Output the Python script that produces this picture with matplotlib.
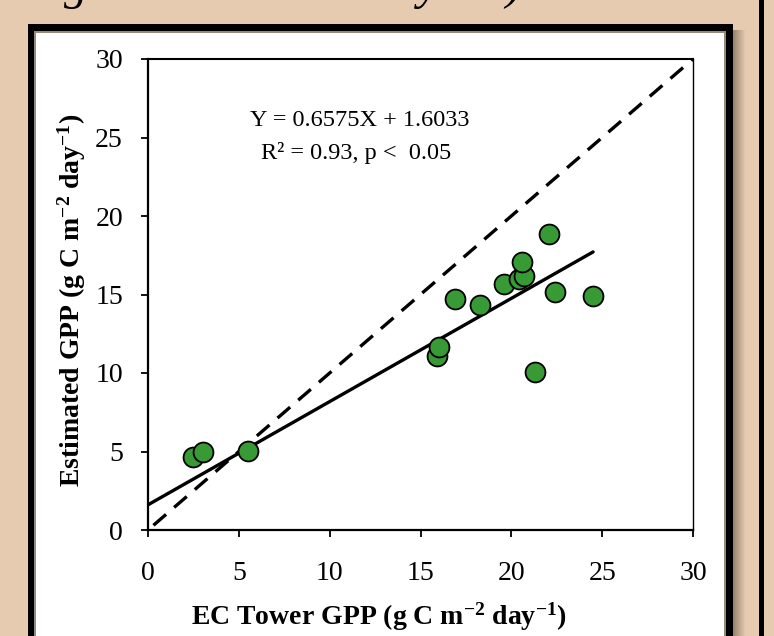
import matplotlib.pyplot as plt
from matplotlib.patches import Rectangle
import numpy as np

plt.rcParams['font.family'] = ['Liberation Serif', 'DejaVu Serif']
plt.rcParams['mathtext.fontset'] = 'custom'
plt.rcParams['mathtext.rm'] = 'Liberation Serif'
plt.rcParams['mathtext.bf'] = 'Liberation Serif:bold'
plt.rcParams['mathtext.default'] = 'bf'

# EC tower GPP vs estimated GPP (g C m-2 day-1)
ec_gpp = [2.5, 3.0, 5.5, 15.9, 16.0, 16.9, 18.3, 19.6, 20.4, 20.7, 20.6,
          21.3, 22.1, 22.4, 24.5]
est_gpp = [4.65, 4.97, 5.03, 11.1, 11.65, 14.7, 14.3, 15.7, 16.0, 16.2, 17.1,
           10.05, 18.85, 15.15, 14.9]
slope = 0.6575
intercept = 1.6033
fit_x = [0, 24.5]
one_to_one = [0.3, 30]
ticks = [0, 5, 10, 15, 20, 25, 30]

W, H = 774, 636
fig = plt.figure(figsize=(W / 100, H / 100), dpi=100)
fig.patch.set_facecolor('#e6cbb0')


def px(x0, y0, x1, y1, **kw):
    # rectangle in pixel coords (y from top), drawn behind the axes
    r = Rectangle((x0 / W, 1 - y1 / H), (x1 - x0) / W, (y1 - y0) / H,
                  transform=fig.transFigure, zorder=-10, **kw)
    fig.patches.append(r)


# shadow on the right of the panel
for i, a in enumerate(np.linspace(0.55, 0.05, 12)):
    px(733 + i, 30, 734 + i, 640, facecolor='#5a4a3a', alpha=a, lw=0)
px(28, 24, 733, 640, facecolor='black', lw=0)
px(34, 31, 726, 640, facecolor='#958a7c', lw=0)
px(36, 33, 724, 640, facecolor='white', lw=0)
px(759, 0, 764, 640, facecolor='black', lw=0)

# cropped heading text at the very top
for s, x in [("g", 64), ("y", 418), (")", 505)]:
    fig.text(x / W, 1 + 1 / H, s, fontsize=34, style='italic',
             va='baseline', ha='left')

ax = fig.add_axes([148 / W, 1 - 530 / H, (693 - 148) / W, (530 - 59) / H])
ax.set_facecolor('white')

ax.plot(one_to_one, one_to_one, color='black', lw=2.4, ls=(0, (5, 3.2)),
        zorder=2)
fx = np.array(fit_x)
ax.plot(fx, slope * fx + intercept, color='black', lw=2.4, zorder=2,
        solid_capstyle='round')
ax.scatter(ec_gpp, est_gpp, s=205, color='#379a35', edgecolors='black',
           linewidths=1.3, zorder=3)

ax.set_xlim(0, 30)
ax.set_ylim(0, 30)
ax.set_xticks(ticks)
ax.set_yticks(ticks)
ax.tick_params(direction='out', length=5, width=1.3, labelsize=20)
ax.tick_params(axis='y', pad=13)
ax.tick_params(axis='x', pad=17)
ax.spines['left'].set_linewidth(1.6)
ax.spines['bottom'].set_linewidth(1.6)
ax.spines['top'].set_linewidth(1.5)
ax.spines['right'].set_linewidth(1.0)

ax.text(360 / W, 1 - 120 / H, "Y = 0.6575X + 1.6033",
        transform=fig.transFigure, fontsize=17.5, ha='center', va='center')
ax.text(356 / W, 1 - 153 / H, "R² = 0.93, p <  0.05",
        transform=fig.transFigure, fontsize=17.5, ha='center', va='center')

fig.text(379 / W, 1 - 617 / H,
         r"EC Tower GPP (g C m$^{-2}$ day$^{-1}$)",
         fontsize=20, fontweight='bold', ha='center', va='center')
fig.text(72 / W, 1 - 300 / H,
         r"Estimated GPP (g C m$^{-2}$ day$^{-1}$)",
         fontsize=20, fontweight='bold', ha='center', va='center',
         rotation=90)

fig.savefig('out.png', dpi=100, facecolor=fig.get_facecolor())
